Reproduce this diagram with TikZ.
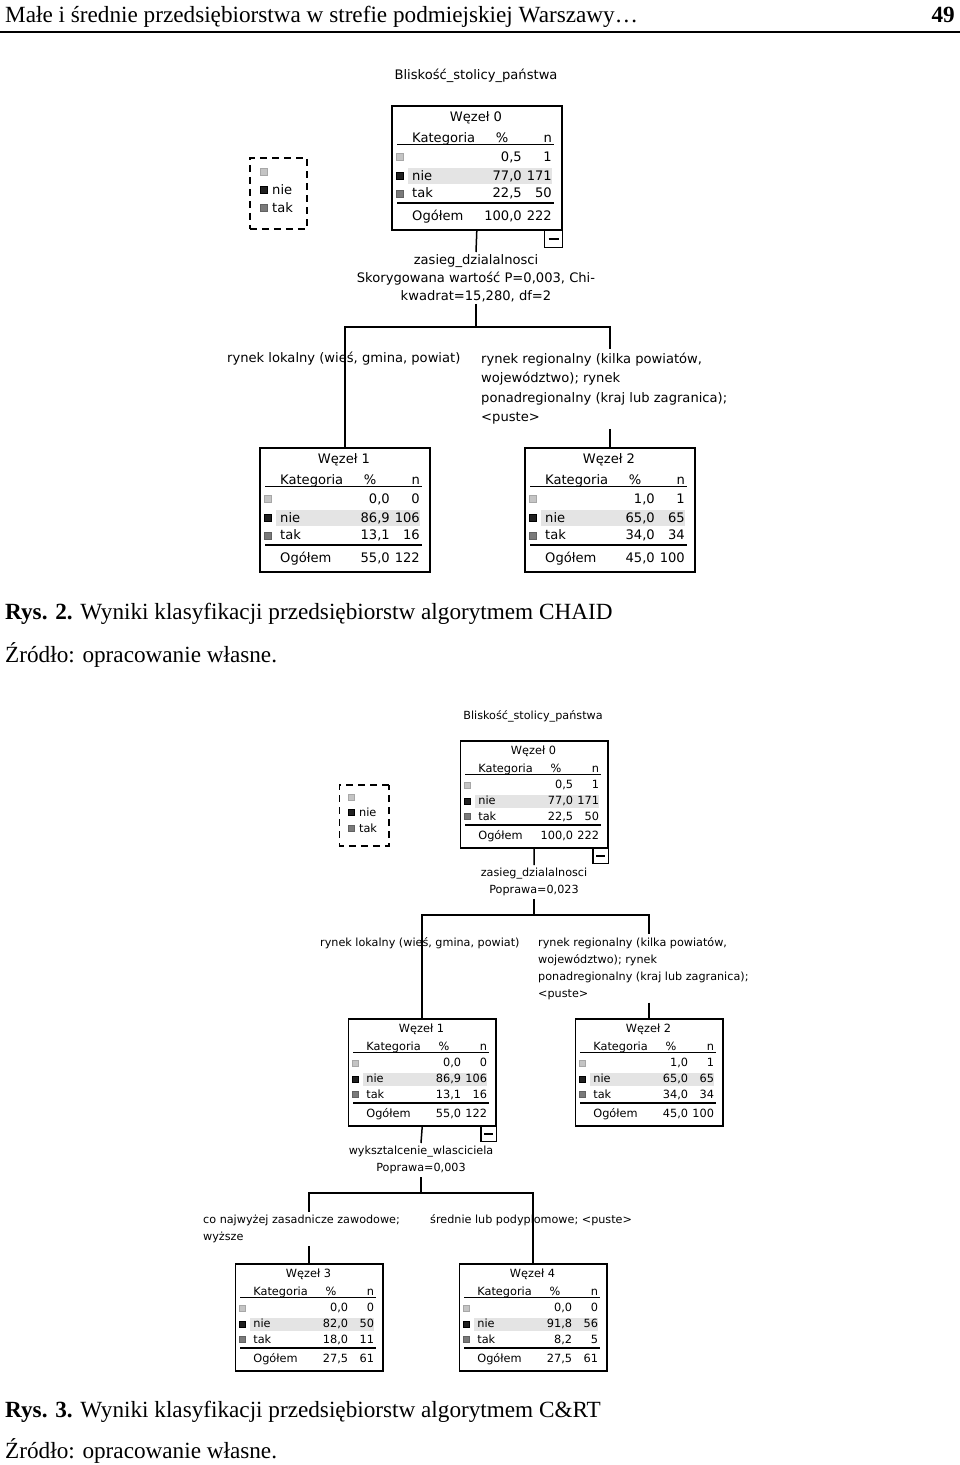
\documentclass[tikz,border=0pt]{standalone}
\usepackage{fontspec}
\setmainfont{Liberation Serif}
\newfontfamily\dv{DejaVu Sans}
\definecolor{sqlight}{HTML}{C4C4C4}
\definecolor{sqdark}{HTML}{202020}
\definecolor{sqmid}{HTML}{7A7A7A}
\definecolor{hl}{HTML}{E4E4E4}
\tikzset{
  treebox/.style={draw, line width=1.6pt, anchor=north west, minimum width=170pt, minimum height=124pt, inner sep=0pt},
  legst/.style={draw, line width=1.6pt, dash pattern=on 7pt off 5pt, anchor=north west, minimum width=57pt, minimum height=71pt, inner sep=0pt},
  ntxt/.style={inner sep=0pt, font=\dv\fontsize{13.1}{14}\selectfont},
  lab1/.style={inner sep=2pt, font=\dv\fontsize{13.1}{18}\selectfont},
  lab2/.style={inner sep=3pt, font=\dv\fontsize{11.2}{17}\selectfont},
  conn/.style={line width=1.5pt},
  capt/.style={inner sep=0pt, anchor=base west, font=\fontsize{23.2}{27}\selectfont},
}
\newcommand{\valrow}[3]{%
  \node[ntxt, anchor=base east] at (131,#1) {#2};
  \node[ntxt, anchor=base east] at (161,#1) {#3};}
\newcommand{\treebox}[9]{%
\begin{scope}[shift={(#2,#3)}, scale=#4, transform shape]
  \fill[hl] (17,63) rectangle (161,79);
  \node[treebox] (#1) at (0,0) {};
  \node[ntxt, anchor=base] at (85,16.5) {Węzeł #5};
  \node[ntxt, anchor=base west] at (21,37) {Kategoria};
  \node[ntxt, anchor=base] at (111,37) {\%};
  \node[ntxt, anchor=base east] at (161,37) {n};
  \draw[line width=1.3pt] (6,39.5) -- (163,39.5);
  \filldraw[fill=sqlight, draw=sqlight!85!black] (5,48.5) rectangle (12,55.5);
  \valrow{56.5}#6
  \filldraw[fill=sqdark, draw=black] (5,67) rectangle (12,74);
  \node[ntxt, anchor=base west] at (21,75) {nie};
  \valrow{75}#7
  \filldraw[fill=sqmid, draw=sqmid!80!black] (5,85) rectangle (12,92);
  \node[ntxt, anchor=base west] at (21,92.5) {tak};
  \valrow{92.5}#8
  \draw[line width=1.8pt] (6,98) -- (163,98);
  \node[ntxt, anchor=base west] at (21,115.5) {Ogółem};
  \valrow{115.5}#9
\end{scope}}
\newcommand{\collapsebox}[2]{%
\begin{scope}[shift={(#1.south east)}, scale=#2]
  \draw[line width=1.3pt] (-18,0) rectangle (0,17);
  \draw[line width=1.3pt] (-14,8.5) -- (-4,8.5);
\end{scope}}
\newcommand{\legendbox}[4]{%
\begin{scope}[shift={(#2,#3)}, scale=#4, transform shape]
  \node[legst] (#1) at (0,0) {};
  \filldraw[fill=sqlight, draw=sqlight!85!black] (11,11.5) rectangle (18,18.5);
  \filldraw[fill=sqdark, draw=black] (11,29.5) rectangle (18,36.5);
  \node[ntxt, anchor=base west] at (23,37.5) {nie};
  \filldraw[fill=sqmid, draw=sqmid!80!black] (11,47.5) rectangle (18,54.5);
  \node[ntxt, anchor=base west] at (23,55.5) {tak};
\end{scope}}
\begin{document}
\begin{tikzpicture}[x=1pt, y=-1pt]
\useasboundingbox (0,0) rectangle (960,1465);
\fill[white] (0,0) rectangle (960,1465);
% header
\node[capt] (hdr) at (5,22) {Małe i średnie przedsiębiorstwa w strefie podmiejskiej Warszawy…};
\node[capt, anchor=base east] (pg) at (955,22) {\bfseries 49};
\draw[line width=2pt] (0,32) -- (960,32);

% ===== Diagram 1 (CHAID)
\node[ntxt, anchor=base] (t1) at (476,79.5) {Bliskość\_stolicy\_państwa};
\legendbox{lega}{249}{157}{1}
\treebox{n0a}{391}{105}{1}{0}{{0,5}{1}}{{77,0}{171}}{{22,5}{50}}{{100,0}{222}}
\collapsebox{n0a}{1}
\treebox{n1a}{259}{447}{1}{1}{{0,0}{0}}{{86,9}{106}}{{13,1}{16}}{{55,0}{122}}
\treebox{n2a}{524}{447}{1}{2}{{1,0}{1}}{{65,0}{65}}{{34,0}{34}}{{45,0}{100}}
\node[lab1, align=center, anchor=north] (s0a) at (476,252) {zasieg\_dzialalnosci\\Skorygowana wartość P=0,003, Chi-\\kwadrat=15,280, df=2};
\coordinate (j0a) at (476,327);
\node[lab1, inner sep=0pt, anchor=base west] (l1a) at (227,362) {rynek lokalny (wieś, gmina, powiat)};
\node[lab1, inner sep=4pt, align=left, anchor=north west] (r2a) at (477,348.5) {rynek regionalny (kilka powiatów,\\[1.6pt]województwo); rynek\\[1.6pt]ponadregionalny (kraj lub zagranica);\\[1.6pt]<puste>};
\draw[conn] (n0a.south) -- (s0a.north);
\draw[conn] (s0a.south) -- (j0a);
\draw[conn] (n1a.north) -- (n1a.north |- j0a) -- (n2a.north |- j0a) -- (n2a.north |- r2a.north);
\draw[conn] (n2a.north |- r2a.south) -- (n2a.north);

\node[capt] (c2) at (5,619.5) {\bfseries Rys. 2.\mdseries{} Wyniki klasyfikacji przedsiębiorstw algorytmem CHAID};
\node[capt] (z2) at (5,662) {Źródło: opracowanie własne.};

% ===== Diagram 2 (C&RT)
\node[ntxt, anchor=base, font=\dv\fontsize{11.2}{12}\selectfont] (t2) at (533,719) {Bliskość\_stolicy\_państwa};
\legendbox{legb}{339}{784}{0.865}
\treebox{n0b}{460}{740}{0.865}{0}{{0,5}{1}}{{77,0}{171}}{{22,5}{50}}{{100,0}{222}}
\collapsebox{n0b}{0.865}
\treebox{n1b}{348}{1018}{0.865}{1}{{0,0}{0}}{{86,9}{106}}{{13,1}{16}}{{55,0}{122}}
\collapsebox{n1b}{0.865}
\treebox{n2b}{575}{1018}{0.865}{2}{{1,0}{1}}{{65,0}{65}}{{34,0}{34}}{{45,0}{100}}
\treebox{n3b}{235}{1263}{0.865}{3}{{0,0}{0}}{{82,0}{50}}{{18,0}{11}}{{27,5}{61}}
\treebox{n4b}{459}{1263}{0.865}{4}{{0,0}{0}}{{91,8}{56}}{{8,2}{5}}{{27,5}{61}}

\node[lab2, align=center, anchor=north] (s0b) at (534,865) {zasieg\_dzialalnosci\\Poprawa=0,023};
\coordinate (j0b) at (534,915);
\node[lab2, inner sep=0pt, anchor=base west] (l1b) at (320,946) {rynek lokalny (wieś, gmina, powiat)};
\node[lab2, align=left, anchor=north west] (r2b) at (535,934) {rynek regionalny (kilka powiatów,\\województwo); rynek\\ponadregionalny (kraj lub zagranica);\\<puste>};
\draw[conn] (n0b.south) -- (s0b.north);
\draw[conn] (s0b.south) -- (j0b);
\draw[conn] (n1b.north) -- (n1b.north |- j0b) -- (n2b.north |- j0b) -- (n2b.north |- r2b.north);
\draw[conn] (n2b.north |- r2b.south) -- (n2b.north);

\node[lab2, align=center, anchor=north] (s1b) at (421,1143) {wyksztalcenie\_wlasciciela\\Poprawa=0,003};
\coordinate (j1b) at (421,1193);
\node[lab2, align=left, anchor=north west] (l3b) at (200,1211.5) {co najwyżej zasadnicze zawodowe;\\wyższe};
\node[lab2, inner sep=0pt, anchor=base west] (r4b) at (430,1223) {średnie lub podyplomowe; <puste>};
\draw[conn] (n1b.south) -- (s1b.north);
\draw[conn] (s1b.south) -- (j1b);
\draw[conn] (n3b.north |- l3b.north) -- (n3b.north |- j1b) -- (n4b.north |- j1b) -- (n4b.north);
\draw[conn] (n3b.north |- l3b.south) -- (n3b.north);

\node[capt] (c3) at (5,1417) {\bfseries Rys. 3.\mdseries{} Wyniki klasyfikacji przedsiębiorstw algorytmem C\&RT};
\node[capt] (z3) at (5,1458) {Źródło: opracowanie własne.};
\end{tikzpicture}
\end{document}
